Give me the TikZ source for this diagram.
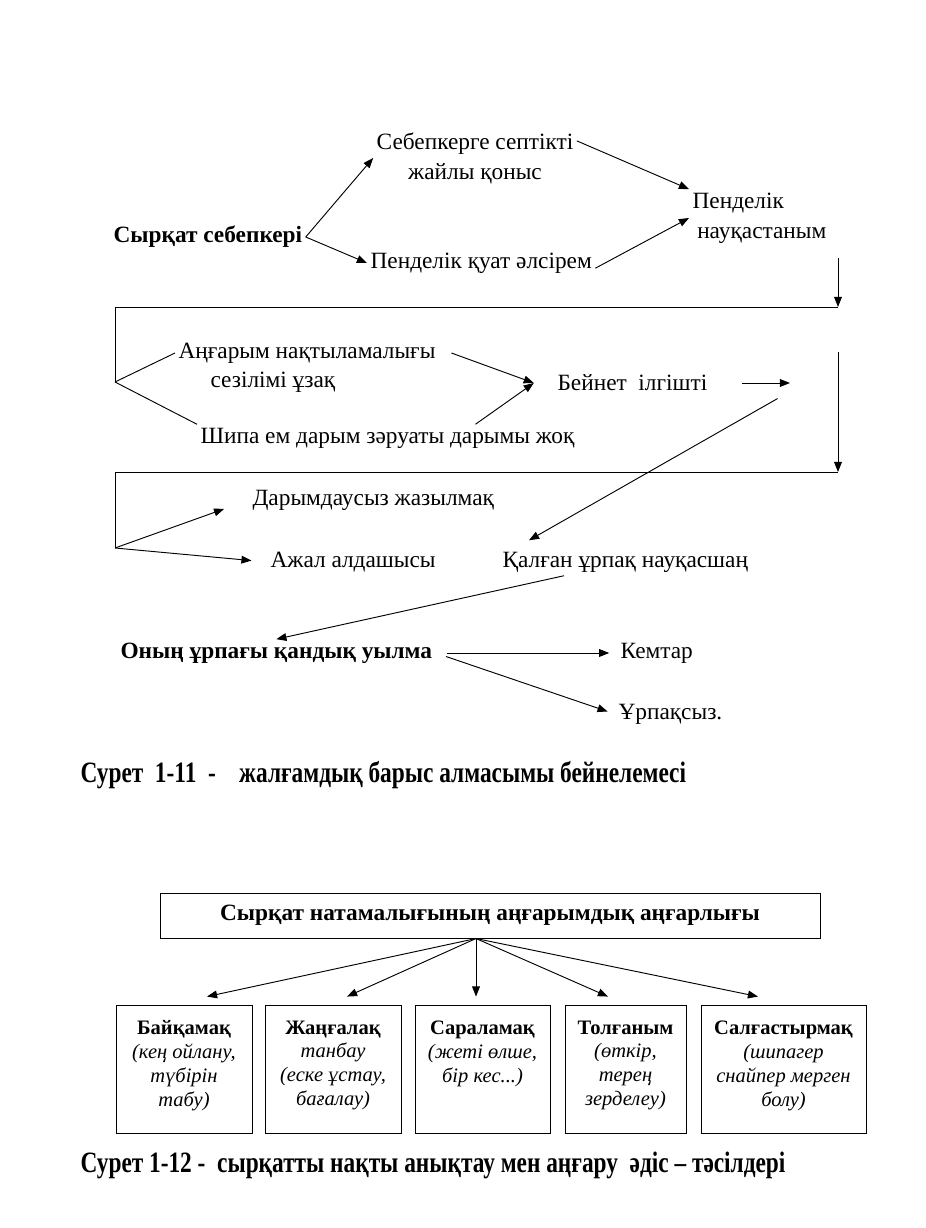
\documentclass[tikz,border=0pt]{standalone}
\usepackage{fontspec}
\setmainfont{Liberation Serif}
\newfontfamily\capfont[FakeStretch=0.79]{Liberation Serif}
\usetikzlibrary{calc, arrows.meta}
\tikzset{tx/.style = {inner sep=2pt, font=\fontsize{15}{19.3}\selectfont},
         tb/.style = {inner sep=2pt, font=\fontsize{15}{19.3}\selectfont\bfseries},
       capt/.style = {inner sep=2pt, font=\fontsize{19}{22}\selectfont\capfont\bfseries},
       head/.style = {draw, minimum width=424.5pt, minimum height=29pt, inner sep=0pt,
                      font=\fontsize{15}{18}\selectfont\bfseries},
        way/.style = {draw, minimum height=82.3pt, inner sep=0pt},
         wl/.style = {anchor=north, align=center, inner sep=4pt, yshift=-6pt,
                      font=\fontsize{13.2}{15.4}\selectfont}}

\begin{document}
\begin{tikzpicture}[x=0.6432pt, y=-0.6432pt, line width=0.6pt,
                    >={Triangle[length=6.5pt, width=5pt]}]
    \useasboundingbox (0,0) rectangle (925,1228);
    % first scheme
    \node[tb, anchor=west] (cause) at (110,237) {Сырқат себепкері};
    \node[tx, align=center] (hab) at (475,158) {Себепкерге септікті\\жайлы қоныс};
    \node[tx, anchor=west] (weak) at (367,263) {Пенделік қуат әлсірем};
    \node[tx, anchor=west, align=left] (ill) at (689,218) {Пенделік\\\hspace*{3pt}науқастаным};
    \draw[->] (cause.east) to (hab.west);
    \draw[->] (cause.east) to (weak.west);
    \draw[->] ([yshift=11pt]hab.east) to (ill.north west);
    \draw[->] (weak.base east) to (ill.west);
    \coordinate (a1) at (838,258); \coordinate (a2) at (838,307);
    \coordinate (a3) at (115,307); \coordinate (a4) at (115,382);
    \draw[->] (a1) -- (a2);
    \draw (a2) -- (a3) -- (a4);
    \node[tx, anchor=west] (ang) at (175,353) {Аңғарым нақтыламалығы};
    \node[tx, anchor=west] (sez) at (207,382) {сезілімі ұзақ};
    \node[tx, anchor=west] (cure) at (197,438) {Шипа ем дарым зәруаты дарымы жоқ};
    \node[tx, anchor=west] (pain) at (554,383) {Бейнет\ \ ілгішті};
    \coordinate (r2) at (790,383);
    \draw (a4) -- (ang.west);
    \draw (a4) -- (cure.north west);
    \draw[->] ([xshift=8pt]ang.east) -- ([xshift=-13pt]pain.west);
    \draw[->] ($(cure.north)+(88,0)$) -- ([xshift=-13pt]pain.west);
    \draw[->] ([xshift=20pt]pain.east) -- (r2);
    \coordinate (b1) at (838,352); \coordinate (b2) at (838,472);
    \coordinate (b3) at (115,472); \coordinate (b4) at (115,548);
    \draw[->] (b1) -- (b2);
    \draw (b2) -- (b3) -- (b4);
    \node[tx, anchor=west] (heal) at (249,500) {Дарымдаусыз жазылмақ};
    \node[tx, anchor=west] (death) at (267,562) {Ажал алдашысы};
    \node[tx, anchor=west] (rest) at (499,562) {Қалған ұрпақ науқасшаң};
    \draw[->, shorten >=17pt] (b4) -- (heal.west);
    \draw[->, shorten >=10pt] (b4) -- (death.west);
    \draw[->] ([shift={(-8pt,-10pt)}]r2) -- ($(rest.north west)+(30,-8)$);
    \node[tb, anchor=west] (uyl) at (117,653) {Оның ұрпағы қандық уылма};
    \node[tx, anchor=west] (kem) at (617,653) {Кемтар};
    \node[tx, anchor=west] (urp) at (615,714) {Ұрпақсыз.};
    \draw[->] ($(rest.south west)+(65,0)$) -- (uyl.north);
    \draw[->, shorten <=7pt, shorten >=5pt] (uyl.east) -- (kem.west);
    \draw[->, shorten <=7pt, shorten >=5pt] (uyl.east) -- (urp.west);
    \node[capt, anchor=west] (cap1) at (77,775) {Сурет\ \ 1-11\ \ -\ \ \ \ жалғамдық барыс алмасымы бейнелемесі};
    % second scheme
    \node[head] (top) at (490,915.5) {Сырқат натамалығының аңғарымдық аңғарлығы};
    \coordinate (o) at ($(top.south)+(-14,0)$);
    \node[way, minimum width=87.5pt, label={[wl]north:{\textbf{Байқамақ}\\\textit{(кең ойлану,}\\\textit{түбірін}\\\textit{табу)}}}] (w1) at (184,1069) {};
    \node[way, minimum width=87.5pt, label={[wl]north:{\textbf{Жаңғалақ}\\\textit{танбау}\\\textit{(еске ұстау,}\\\textit{бағалау)}}}] (w2) at (333,1069) {};
    \node[way, minimum width=86.8pt, label={[wl]north:{\textbf{Сараламақ}\\\textit{(жеті өлше,}\\\textit{бір кес...)}}}] (w3) at (482.5,1069) {};
    \node[way, minimum width=77.8pt, label={[wl]north:{\textbf{Толғаным}\\\textit{(өткір,}\\\textit{терең}\\\textit{зерделеу)}}}] (w4) at (625.5,1069) {};
    \node[way, minimum width=106.1pt, label={[wl]north:{\textbf{Салғастырмақ}\\\textit{(шипагер}\\\textit{снайпер мерген}\\\textit{болу)}}}] (w5) at (783.5,1069) {};
    \draw[->] (o) -- ($(w1.north)+(23,-8)$);
    \draw[->] (o) -- ($(w2.north)+(14,-8)$);
    \draw[->] (o) -- ($(w3.north)+(-6.5,-8)$);
    \draw[->] (o) -- ($(w4.north)+(-17.5,-8)$);
    \draw[->] (o) -- ($(w5.north)+(-25.5,-8)$);
    \node[capt, anchor=west] (cap2) at (77,1165) {Сурет 1-12 -\ \ сырқатты нақты анықтау мен аңғару\ \ әдіс – тәсілдері};
\end{tikzpicture}
\end{document}
